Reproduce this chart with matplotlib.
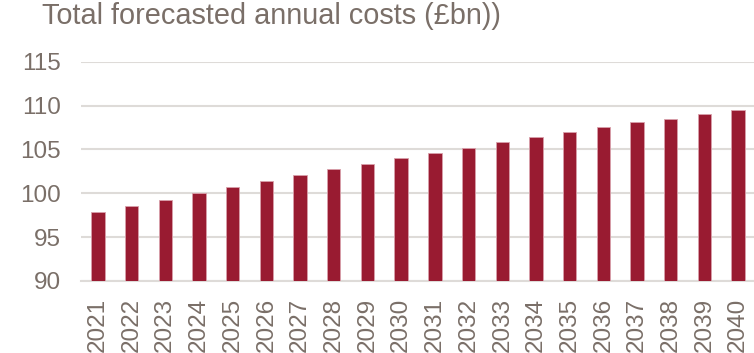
import matplotlib.pyplot as plt

years = [str(y) for y in range(2021, 2041)]
costs = [97.9, 98.6, 99.25, 100.0, 100.7, 101.45, 102.1, 102.8, 103.35, 104.0,
         104.6, 105.15, 105.8, 106.4, 107.0, 107.5, 108.1, 108.5, 109.0, 109.45]
y_ticks = [90, 95, 100, 105, 110, 115]

text_color = '#7a6f68'
bar_color = '#991b31'

plt.rcParams['font.family'] = ['Liberation Sans', 'DejaVu Sans']

fig = plt.figure(figsize=(7.54, 3.53), dpi=100)
ax = fig.add_axes([81 / 754, 1 - 281 / 353, 674 / 754, (281 - 61.7) / 353])

x = range(len(years))
ax.bar(x, costs, width=0.4, color=bar_color, edgecolor='#d9a0ab', linewidth=0.6, zorder=3)

ax.set_ylim(90, 115)
ax.set_xlim(-0.5, 19.5)
ax.set_yticks(y_ticks)
ax.set_xticks(list(x))
ax.set_xticklabels(years, rotation=90)

ax.grid(axis='y', color='#dedbd8', linewidth=1.5, zorder=0)
ax.tick_params(axis='both', length=0, labelsize=17.5, labelcolor=text_color)
ax.tick_params(axis='y', pad=14.5)
ax.tick_params(axis='x', pad=12)
for side in ['top', 'right', 'left']:
    ax.spines[side].set_visible(False)
ax.spines['bottom'].set_color('#dedbd8')
ax.spines['bottom'].set_linewidth(1.5)

fig.text(42 / 754, 1 - 2 / 353, 'Total forecasted annual costs (£bn))', fontsize=20.8,
         color=text_color, ha='left', va='top')

fig.savefig('out.png', dpi=100)
